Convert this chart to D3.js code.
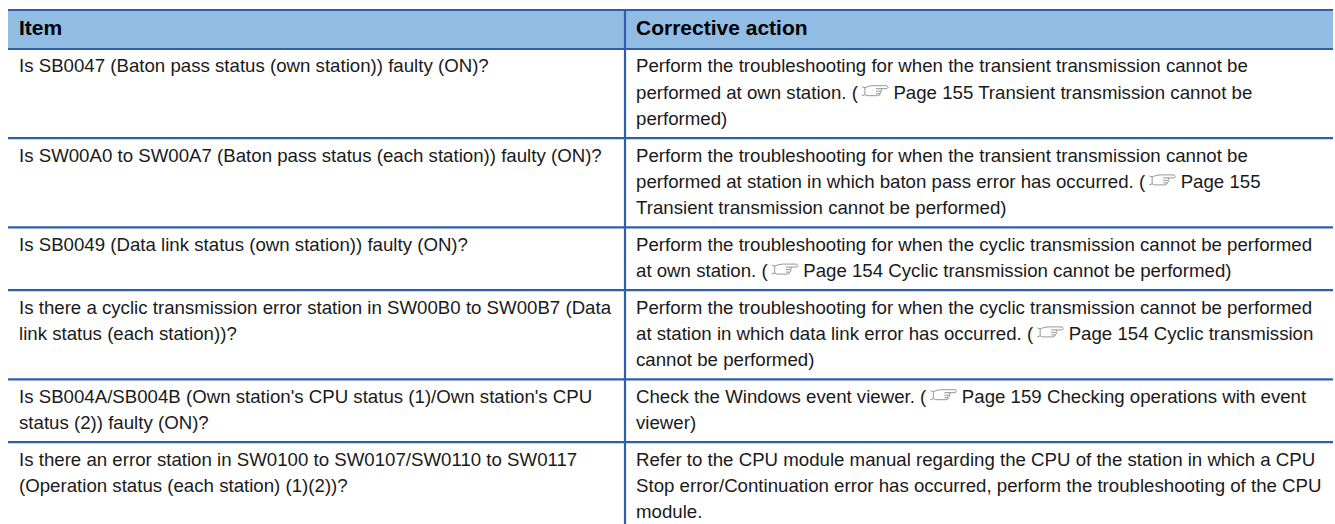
<!DOCTYPE html>
<html><head><meta charset="utf-8">
<script src="https://cdn.jsdelivr.net/npm/d3@7"></script>
<style>html,body{margin:0;padding:0;background:#fff}svg{display:block}</style>
</head><body><svg id="c" width="1335" height="524"></svg>
<script>
const headers = ["Item", "Corrective action"];
const items = [
 ["Is SB0047 (Baton pass status (own station)) faulty (ON)?"],
 ["Is SW00A0 to SW00A7 (Baton pass status (each station)) faulty (ON)?"],
 ["Is SB0049 (Data link status (own station)) faulty (ON)?"],
 ["Is there a cyclic transmission error station in SW00B0 to SW00B7 (Data","link status (each station))?"],
 ["Is SB004A/SB004B (Own station's CPU status (1)/Own station's CPU","status (2)) faulty (ON)?"],
 ["Is there an error station in SW0100 to SW0107/SW0110 to SW0117","(Operation status (each station) (1)(2))?"]
];
const actions = [
 ["Perform the troubleshooting for when the transient transmission cannot be","performed at own station. (☞ Page 155 Transient transmission cannot be","performed)"],
 ["Perform the troubleshooting for when the transient transmission cannot be","performed at station in which baton pass error has occurred. (☞ Page 155","Transient transmission cannot be performed)"],
 ["Perform the troubleshooting for when the cyclic transmission cannot be performed","at own station. (☞ Page 154 Cyclic transmission cannot be performed)"],
 ["Perform the troubleshooting for when the cyclic transmission cannot be performed","at station in which data link error has occurred. (☞ Page 154 Cyclic transmission","cannot be performed)"],
 ["Check the Windows event viewer. (☞ Page 159 Checking operations with event","viewer)"],
 ["Refer to the CPU module manual regarding the CPU of the station in which a CPU","Stop error/Continuation error has occurred, perform the troubleshooting of the CPU","module."]
];
const H=524, LH=26.4, PAD=10, HEAD_TOP=10, HEAD_BOT=49;
const blue="#2f5fac", fillH="#91bce3", ink="#1a1a1a";
const font="'Liberation Sans',Arial,sans-serif", FS=18.66, FSH=21;
const HAND="M0,1L3,2V9L0,10M3,2Q7,0 11,0H25Q27.5,1.5 25,3H14M19,3Q20.5,4.5 19,5.5H14M19,5.5Q20,7 18,8H14M18,8Q18,10 15.5,10H8Q5,10.5 3,9";
const svg=d3.select("#c");
const rowHeights=actions.map(a=>a.length*LH+PAD);
const rowEdges=rowHeights.reduce((acc,h)=>(acc.push(acc[acc.length-1]+h),acc),[HEAD_BOT]);
const xL=8,xM=625,xR=1333;

svg.append("rect").attr("x",xL).attr("y",HEAD_TOP).attr("width",xR-xL).attr("height",HEAD_BOT-HEAD_TOP).attr("fill",fillH);
svg.selectAll("line.h").data([HEAD_TOP,...rowEdges]).join("line").attr("class","h")
 .attr("x1",xL).attr("x2",xR).attr("y1",d=>d).attr("y2",d=>d)
 .attr("stroke",blue).attr("stroke-width",2.2);
svg.append("line").attr("x1",xM).attr("x2",xM).attr("y1",HEAD_TOP).attr("y2",H).attr("stroke",blue).attr("stroke-width",2.2);
svg.selectAll("text.hd").data(headers).join("text").attr("class","hd")
 .attr("x",(d,i)=>[19,636][i]).attr("y",35)
 .attr("font-family",font).attr("font-weight","bold").attr("font-size",FSH).attr("fill","#000").text(d=>d);

function cell(lines,x0,top){
  lines.forEach((ln,i)=>{
    const y=top+23.3+i*LH;
    const t=svg.append("text").attr("x",x0).attr("y",y)
      .attr("font-family",font).attr("font-size",FS).attr("fill",ink);
    const parts=ln.split("☞ ");
    t.append("tspan").text(parts[0]);
    if(parts.length>1){
      const w=t.node().getComputedTextLength();
      svg.append("path").attr("d",HAND)
        .attr("transform",`translate(${x0+w+4},${y-13})`)
        .attr("fill","none").attr("stroke","#8a8a8a").attr("stroke-width",0.9);
      t.append("tspan").attr("dx",35.5).text(parts[1]);
    }
  });
}
items.forEach((l,i)=>cell(l,19,rowEdges[i]));
actions.forEach((l,i)=>cell(l,636,rowEdges[i]));
</script></body></html>
